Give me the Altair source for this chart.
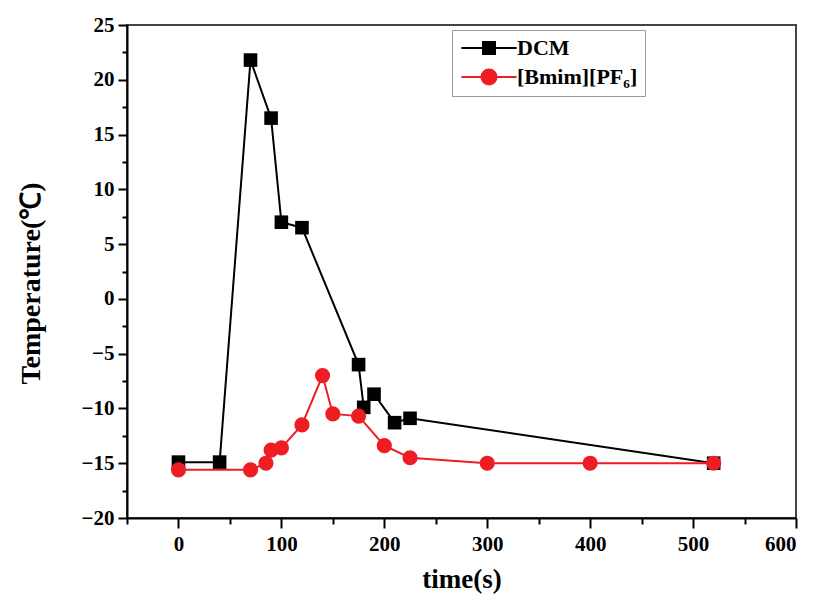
import altair as alt
import pandas as pd

# ---- data ----
dcm_time = [0, 40, 70, 90, 100, 120, 175, 180, 190, 210, 225, 520]
dcm_temp = [-14.9, -14.9, 21.8, 16.5, 7.0, 6.5, -6.0, -9.9, -8.7, -11.3, -10.9, -15.0]

bmim_time = [0, 70, 85, 90, 100, 120, 140, 150, 175, 200, 225, 300, 400, 520]
bmim_temp = [-15.6, -15.6, -15.0, -13.8, -13.6, -11.5, -7.0, -10.5, -10.7, -13.4, -14.5, -15.0, -15.0, -15.0]

series_names = ["DCM", "[Bmim][PF\u2086]"]
series_colors = ["#000000", "#ee1d23"]

x_ticks = list(range(-50, 601, 50))
y_ticks = [v / 2 for v in range(-40, 51, 5)]

df_dcm = pd.DataFrame({"time": dcm_time, "temp": dcm_temp, "series": series_names[0]})
df_bmim = pd.DataFrame({"time": bmim_time, "temp": bmim_temp, "series": series_names[1]})
df_all = pd.concat([df_dcm, df_bmim], ignore_index=True)

FONT = "Liberation Serif"

x_enc = alt.X(
    "time:Q",
    scale=alt.Scale(domain=[-50, 600], nice=False, zero=False),
    axis=alt.Axis(
        title="time(s)",
        values=x_ticks,
        labelExpr="datum.value % 100 === 0 ? datum.label : ''",
        tickSize={"condition": {"test": "datum.value % 100 === 0", "value": 10}, "value": 6},
        labelPadding=5,
        titlePadding=12,
        titleFontSize=27,
    ),
)
y_enc = alt.Y(
    "temp:Q",
    scale=alt.Scale(domain=[-20, 25], nice=False, zero=False),
    axis=alt.Axis(
        title="Temperature(\u2103)",
        values=y_ticks,
        format="~g",
        labelExpr="datum.value % 5 === 0 ? datum.label : ''",
        tickSize={"condition": {"test": "datum.value % 5 === 0", "value": 9}, "value": 5},
        labelPadding=4,
        titlePadding=36,
        titleY=258,
    ),
)

base_dcm = alt.Chart(df_dcm).encode(x=x_enc, y=y_enc)
base_bmim = alt.Chart(df_bmim).encode(x=x_enc, y=y_enc)

dcm_line = base_dcm.mark_line(color=series_colors[0], strokeWidth=2)
dcm_pts = base_dcm.mark_square(color=series_colors[0], size=185, opacity=1)
bmim_line = base_bmim.mark_line(color=series_colors[1], strokeWidth=2)
bmim_pts = base_bmim.mark_circle(color=series_colors[1], size=230, opacity=1)

legend_paths = [
    "M-4.6,0H4.6M-1,-1H1V1H-1Z",
    "M-4.6,0H4.6M1.25,0A1.25,1.25,0,1,1,-1.25,0A1.25,1.25,0,1,1,1.25,0Z",
]

leg = alt.Legend(
    title=None,
    orient="none",
    legendX=325,
    legendY=5,
    padding=7,
    strokeColor="#999999",
    fillColor="#ffffff",
    labelFont=FONT,
    labelFontSize=22,
    labelFontWeight="bold",
    labelColor="#000000",
    symbolSize=144,
    symbolStrokeWidth=2,
    symbolOpacity=1,
    symbolOffset=19,
    labelOffset=17,
    rowPadding=6,
)

legend_layer = alt.Chart(df_all).mark_point(opacity=0, size=144, filled=True).encode(
    x=x_enc,
    y=y_enc,
    fill=alt.Fill("series:N", scale=alt.Scale(domain=series_names, range=series_colors), legend=leg),
    stroke=alt.Stroke("series:N", scale=alt.Scale(domain=series_names, range=series_colors), legend=leg),
    shape=alt.Shape("series:N", scale=alt.Scale(domain=series_names, range=legend_paths), legend=leg),
)

chart = (
    alt.layer(dcm_line, dcm_pts, bmim_line, bmim_pts, legend_layer)
    .properties(
        width=669,
        height=493,
        autosize=alt.AutoSizeParams(type="none"),
        padding={"left": 119, "top": 17, "right": 10, "bottom": 78},
        background="#ffffff",
    )
    .configure_view(stroke="#444444", strokeWidth=2)
    .configure_axis(
        grid=False,
        domainColor="#000000",
        domainWidth=2,
        tickColor="#000000",
        tickWidth=2,
        labelFont=FONT,
        labelFontSize=21,
        labelFontWeight="bold",
        labelColor="#000000",
        titleFont=FONT,
        titleFontSize=28,
        titleFontWeight="bold",
        titleColor="#000000",
    )
)

chart.save("out.html", embed_options={"renderer": "svg", "actions": False})
